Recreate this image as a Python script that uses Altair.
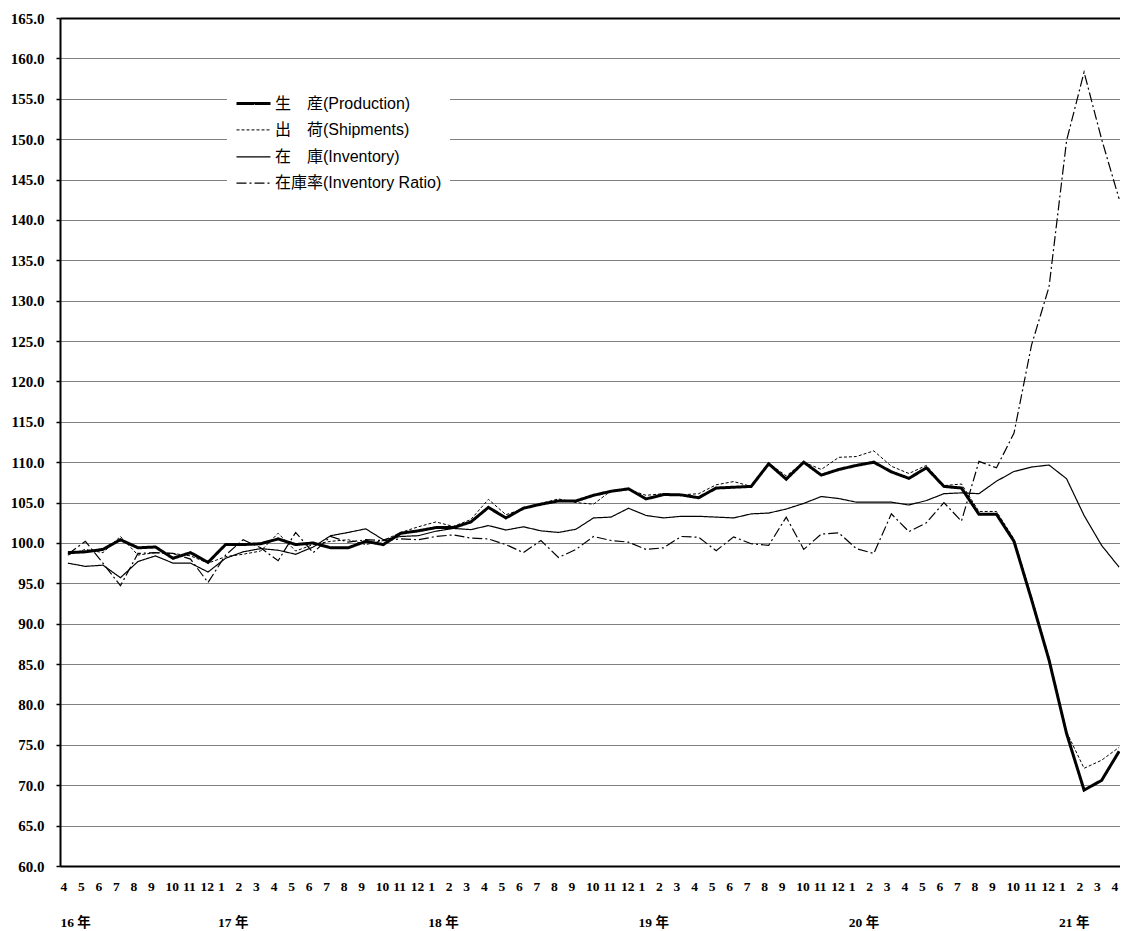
import json
import altair as alt
import pandas as pd

# ---- data -------------------------------------------------------------
MONTHS = ["4", "5", "6", "7", "8", "9", "10", "11", "12",
          "1", "2", "3", "4", "5", "6", "7", "8", "9", "10", "11", "12",
          "1", "2", "3", "4", "5", "6", "7", "8", "9", "10", "11", "12",
          "1", "2", "3", "4", "5", "6", "7", "8", "9", "10", "11", "12",
          "1", "2", "3", "4", "5", "6", "7", "8", "9", "10", "11", "12",
          "1", "2", "3", "4"]
YEAR_POS = [0, 9, 21, 33, 45, 57]
YEAR_LABELS = ["16 年", "17 年", "18 年", "19 年", "20 年", "21 年"]

SERIES = ["生\u3000産(Production)", "出\u3000荷(Shipments)",
          "在\u3000庫(Inventory)", "在庫率(Inventory Ratio)"]

production = [98.8, 98.9, 99.2, 100.4, 99.4, 99.5, 98.1, 98.8, 97.6, 99.8,
              99.8, 99.9, 100.5, 99.8, 100.0, 99.4, 99.4, 100.2, 99.8, 101.2,
              101.5, 101.9, 101.9, 102.6, 104.4, 103.1, 104.3, 104.8, 105.2, 105.2,
              105.9, 106.4, 106.7, 105.45, 106.0, 105.95, 105.6, 106.8, 106.9, 107.0,
              109.8, 107.9, 110.0, 108.4, 109.1, 109.6, 110.0, 108.8, 108.0, 109.3,
              107.0, 106.8, 103.55, 103.55, 100.2, 93.0, 85.5, 76.4, 69.4, 70.6,
              74.2]
shipments = [98.5, 99.2, 98.8, 100.8, 98.5, 98.8, 98.7, 98.4, 97.5, 98.3,
             98.6, 99.0, 101.2, 99.0, 99.8, 100.2, 100.4, 99.8, 100.3, 101.3,
             102.0, 102.6, 102.05, 102.9, 105.4, 103.5, 104.2, 104.9, 105.45, 105.0,
             104.8, 106.45, 106.6, 105.9, 106.1, 105.95, 106.1, 107.2, 107.6, 107.0,
             109.9, 108.3, 110.0, 109.1, 110.6, 110.7, 111.4, 109.5, 108.6, 109.6,
             107.1, 107.3, 103.9, 103.9, 100.5, 93.3, 85.8, 76.6, 72.1, 73.1,
             74.7]
inventory = [97.5, 97.1, 97.25, 95.7, 97.7, 98.4, 97.5, 97.5, 96.4, 98.1,
             98.9, 99.3, 99.1, 98.6, 99.5, 100.9, 101.3, 101.75, 100.4, 100.8,
             100.9, 101.45, 101.8, 101.65, 102.15, 101.6, 102.0, 101.5, 101.3, 101.7,
             103.1, 103.2, 104.3, 103.4, 103.1, 103.3, 103.3, 103.2, 103.1, 103.6,
             103.7, 104.2, 104.9, 105.75, 105.5, 105.05, 105.05, 105.05, 104.7, 105.25,
             106.1, 106.2, 106.1, 107.65, 108.85, 109.4, 109.65, 107.95, 103.4, 99.7,
             97.0]
ratio = [98.6, 100.2, 97.5, 94.7, 98.7, 98.8, 98.7, 98.0, 95.1, 98.5,
         100.4, 99.4, 97.8, 101.3, 98.8, 100.8, 100.1, 100.4, 100.3, 100.5,
         100.4, 100.8, 101.0, 100.6, 100.5, 99.8, 98.8, 100.3, 98.2, 99.2,
         100.8, 100.3, 100.1, 99.2, 99.4, 100.8, 100.7, 99.05, 100.75, 99.9,
         99.7, 103.2, 99.2, 101.1, 101.25, 99.3, 98.7, 103.6, 101.4, 102.5,
         105.0, 102.7, 110.1, 109.3, 113.6, 124.5, 131.7, 149.8, 158.3, 150.0,
         142.6]

rows = []
for name, vals in zip(SERIES, [production, shipments, inventory, ratio]):
    for i, v in enumerate(vals):
        rows.append({"idx": i, "value": v, "series": name})
df = pd.DataFrame(rows)

# x tick labels: month, plus year on a second (widely spaced) line under the first month of each year
labels = []
for i, m in enumerate(MONTHS):
    if i in YEAR_POS:
        labels.append([m, YEAR_LABELS[YEAR_POS.index(i)]])
    else:
        labels.append(m)
label_expr = json.dumps(labels, ensure_ascii=False) + "[datum.value]"

SERIF = "Liberation Serif, Noto Sans CJK JP"
SANS = "Liberation Sans, Noto Sans CJK JP"

leg = alt.Legend(
    title=None, orient="none", legendX=167, legendY=59, direction="vertical",
    symbolType="stroke", symbolSize=1156, symbolStrokeColor="black",
    labelFont=SANS, labelFontSize=16, labelColor="black", labelLimit=400,
    labelOffset=3, rowPadding=0.4, padding=8, fillColor="white",
)

chart = alt.Chart(df).mark_line(color="black").encode(
    x=alt.X(
        "idx:Q",
        scale=alt.Scale(domain=[-0.45, 60.05], nice=False, zero=False),
        axis=alt.Axis(
            values=list(range(61)), labelExpr=label_expr, title=None,
            labelAlign="left", labelOffset=-8, labelBaseline="top", labelPadding=13,
            labelFont=SERIF, labelFontWeight="bold", labelFontSize=13.5,
            labelColor="black", labelLineHeight=36, labelOverlap=False,
            labelFlush=False, labelBound=False, ticks=False, tickSize=0,
            grid=False, domainColor="black", domainWidth=2,
        ),
    ),
    y=alt.Y(
        "value:Q",
        scale=alt.Scale(domain=[60, 165], nice=False, zero=False),
        axis=alt.Axis(
            values=list(range(60, 170, 5)), format=".1f", title=None,
            labelFont=SERIF, labelFontWeight="bold", labelFontSize=15,
            labelColor="black", labelPadding=12,
            domainColor="black", domainWidth=2,
            tickColor="black", tickSize=4, tickWidth=1.5,
            grid=True,
            gridColor={"condition": {"test": "datum.value >= 165", "value": "black"},
                       "value": "#808080"},
            gridWidth={"condition": {"test": "datum.value >= 165", "value": 2},
                       "value": 1.2},
        ),
    ),
    strokeDash=alt.StrokeDash(
        "series:N",
        scale=alt.Scale(domain=SERIES, range=[[1, 0], [3, 2], [1, 0], [10, 3, 2, 3]]),
        legend=leg,
    ),
    strokeWidth=alt.StrokeWidth(
        "series:N",
        scale=alt.Scale(type="ordinal", domain=SERIES, range=[3, 1, 1.2, 1.2]),
        legend=leg,
    ),
).properties(
    width=1060,
    height=848,
    autosize=alt.AutoSizeParams(type="none"),
    padding={"left": 52, "top": 10, "right": 0, "bottom": 70},
    background="white",
).configure_view(strokeWidth=0)

chart.save("out.html", embed_options={"renderer": "svg", "actions": False})
